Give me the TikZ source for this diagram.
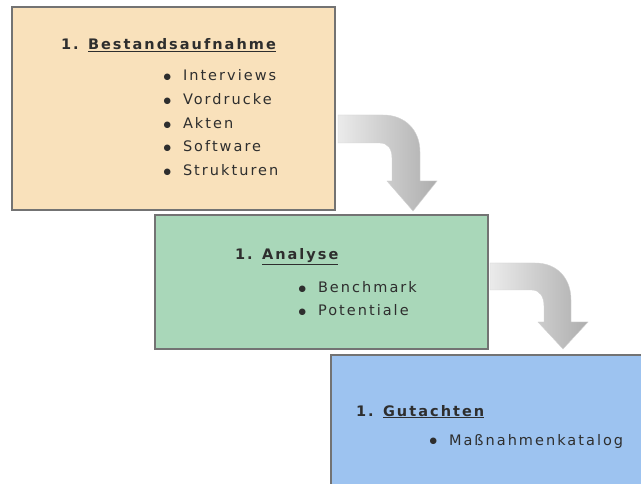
\documentclass[tikz,border=0pt]{standalone}
\usepackage{fontspec}
\setmainfont{DejaVu Sans}[LetterSpace=14]
\newcommand{\blt}{\makebox[21pt][l]{\hspace{1.5pt}\raisebox{1.2pt}{\fontsize{8.5}{8.5}\selectfont ●}}}
\begin{document}
\begin{tikzpicture}[x=1pt,y=-1pt,
  box/.style={draw=black!55,line width=1.2pt},
  txt/.style={anchor=base west,inner sep=0pt,outer sep=0pt,text=black!82,font=\fontsize{14.5}{17}\selectfont},
  ttl/.style={txt,font=\fontsize{14.5}{17}\selectfont\bfseries},
  flow/.style={draw=black!18,line width=0.4pt,left color=black!8,right color=black!32}]
\definecolor{peach}{HTML}{F9E1BB}
\definecolor{mint}{HTML}{A9D7B9}
\definecolor{sky}{HTML}{9DC3F0}
\useasboundingbox (0,0) rectangle (641,484);
\clip (0,0) rectangle (641,484);
\fill[white] (0,0) rectangle (641,484);
% boxes
\draw[box,fill=peach] (12,7) rectangle (335,210);
\draw[box,fill=mint] (155,215) rectangle (488,349);
\draw[box,fill=sky] (331,355) rectangle (650,500);
% arrows
\path[flow] (338,115) -- (383,115) .. controls (405,115) and (420,130) .. (420,152)
  -- (420,181) -- (437,181) -- (413,211) -- (387,181) -- (392,181) -- (392,158)
  .. controls (392,149) and (388,143) .. (380,143) -- (338,143) -- cycle;
\path[flow] (490,263) -- (535,263) .. controls (557,263) and (571,278) .. (571,300)
  -- (571,322) -- (588,322) -- (563,349) -- (538,322) -- (544,322) -- (544,306)
  .. controls (544,297) and (540,290) .. (532,290) -- (490,290) -- cycle;
% box 1
\node[ttl] (t1) at (61,50) {1. \underline{Bestandsaufnahme}};
\node[txt] (i1) at (162,81) {\blt Interviews};
\node[txt] (i2) at (162,105) {\blt Vordrucke};
\node[txt] (i3) at (162,129) {\blt Akten};
\node[txt] (i4) at (162,152) {\blt Software};
\node[txt] (i5) at (162,176) {\blt Strukturen};
% box 2
\node[ttl] (t2) at (235,260) {1. \underline{Analyse}};
\node[txt] (j1) at (297,293) {\blt Benchmark};
\node[txt] (j2) at (297,316) {\blt Potentiale};
% box 3
\node[ttl] (t3) at (356,416) {1. \underline{Gutachten}};
\node[txt] (k1) at (428,445) {\blt Maßnahmenkatalog};
\end{tikzpicture}
\end{document}
